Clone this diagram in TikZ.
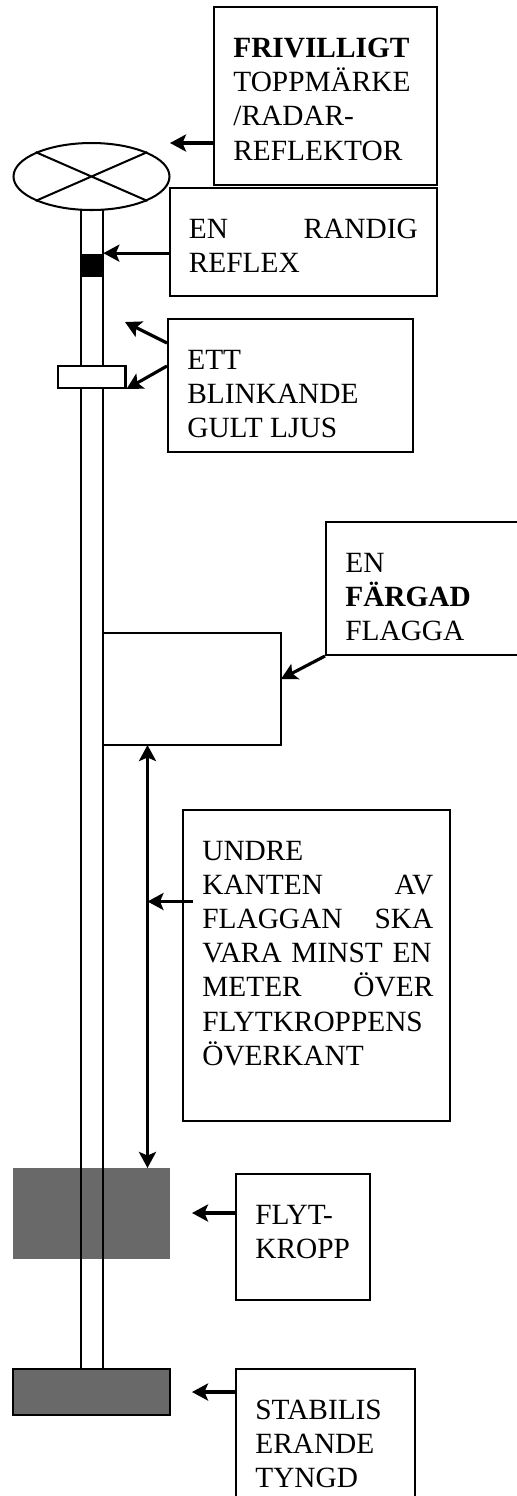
\documentclass[tikz,border=0pt]{standalone}
\usepackage{fontspec}
\setmainfont{Liberation Serif}
\usetikzlibrary{arrows.meta,positioning,shapes.geometric}
\definecolor{floatgray}{HTML}{696969}
\tikzset{
  infobox/.style={draw,line width=1.15pt,anchor=north west,inner sep=0pt},
  boxtext/.style={inner sep=0pt,anchor=north west,align=left,font=\fontsize{16.7}{19.4}\selectfont},
  pole/.style={line width=1.15pt},
  pointer/.style={line width=1.8pt},
}
\begin{document}
\begin{tikzpicture}[>={Stealth[length=0.32cm,width=0.34cm,inset=0.07cm]}]
    \useasboundingbox (0,0) rectangle (10.34,-29.92);
    % pole
    \node[draw,pole,ellipse,minimum width=3.12cm,minimum height=1.34cm,inner sep=0pt] (topmark) at (1.83,-3.53) {};
    \draw[pole] (topmark.north west)--(topmark.south east) (topmark.north east)--(topmark.south west);
    \node[fill=floatgray,minimum width=3.14cm,minimum height=1.82cm,inner sep=0pt] (floatbody) at (1.83,-24.27) {};
    \node[draw,pole,fill=floatgray,minimum width=3.14cm,minimum height=0.92cm,inner sep=0pt] (weight) at (1.83,-27.84) {};
    \coordinate (poletopl) at (1.62,-4.2);
    \coordinate (poletopr) at (2.06,-4.2);
    \draw[pole] (poletopl)--(poletopl|-weight.north) (poletopr)--(poletopr|-weight.north);
    \node[fill=black,minimum width=0.44cm,minimum height=0.46cm,inner sep=0pt] (band) at (1.84,-5.3) {};
    \node[draw,pole,fill=white,minimum width=1.35cm,minimum height=0.44cm,inner sep=0pt] (light) at (1.835,-7.54) {};
    \node[infobox,minimum width=3.56cm,minimum height=2.24cm] (flag) at (2.04,-12.64) {};
    % boxes
    \node[infobox,minimum width=4.46cm,minimum height=3.56cm] (topbox) at (4.26,-0.12) {};
    \node[boxtext,below right=0.64cm and 0.4cm of topbox.north west,anchor=north west] (toptext) {\textbf{FRIVILLIGT}\\TOPPMÄRKE\\/RADAR-\\REFLEKTOR};
    \node[infobox,minimum width=5.35cm,minimum height=2.17cm] (reflexbox) at (3.37,-3.73) {};
    \node[boxtext,text width=4.58cm,below right=0.64cm and 0.4cm of reflexbox.north west,anchor=north west] (reflextext) {EN \hfill RANDIG\\REFLEX};
    \node[infobox,minimum width=4.9cm,minimum height=2.66cm] (lightbox) at (3.34,-6.36) {};
    \node[boxtext,below right=0.64cm and 0.4cm of lightbox.north west,anchor=north west] (lighttext) {ETT\\BLINKANDE\\GULT LJUS};
    \node[infobox,minimum width=4.2cm,minimum height=2.66cm] (flagbox) at (6.5,-10.42) {};
    \node[boxtext,below right=0.64cm and 0.4cm of flagbox.north west,anchor=north west] (flagtext) {EN\\\textbf{FÄRGAD}\\FLAGGA};
    \node[infobox,minimum width=5.34cm,minimum height=6.22cm] (edgebox) at (3.64,-16.18) {};
    \node[boxtext,text width=4.62cm,below right=0.64cm and 0.4cm of edgebox.north west,anchor=north west] (edgetext) {UNDRE\\KANTEN \hfill AV\\FLAGGAN \hfill SKA\\VARA MINST EN\\METER \hfill ÖVER\\FLYTKROPPENS\\ÖVERKANT};
    \node[infobox,minimum width=2.68cm,minimum height=2.52cm] (floatbox) at (4.7,-23.46) {};
    \node[boxtext,below right=0.64cm and 0.4cm of floatbox.north west,anchor=north west] (floattext) {FLYT-\\KROPP};
    \node[infobox,minimum width=3.58cm,minimum height=3cm] (weightbox) at (4.7,-27.36) {};
    \node[boxtext,below right=0.64cm and 0.4cm of weightbox.north west,anchor=north west] (weighttext) {STABILIS\\ERANDE\\TYNGD};
    % pointers
    \coordinate (toptip) at (3.4,-2.86);
    \coordinate (lighttip) at (2.5,-6.44);
    \coordinate (flagtip) at (5.62,-13.58);
    \coordinate (edgeup) at (2.95,-14.9);
    \coordinate (edgedown) at (2.95,-23.36);
    \coordinate (edgefrom) at (3.86,-18.03);
    \coordinate (floattip) at (3.84,-24.26);
    \coordinate (weighttip) at (3.84,-27.84);
    \draw[pointer,->] (topbox.west|-toptip)--(toptip);
    \draw[pointer,->] (reflexbox.west|-band.north)--(band.north east);
    \draw[pointer,->] ([yshift=-0.5cm]lightbox.north west)--(lighttip);
    \draw[pointer,->] ([yshift=-0.96cm]lightbox.north west)--(light.south east);
    \draw[pointer,->] (flagbox.south west)--(flagtip);
    \draw[pointer,<->] (edgeup)--(edgedown);
    \draw[pointer,->] (edgefrom)--(edgeup|-edgefrom);
    \draw[pointer,->] (floatbox.west|-floattip)--(floattip);
    \draw[pointer,->] (weightbox.west|-weighttip)--(weighttip);
\end{tikzpicture}
\end{document}
